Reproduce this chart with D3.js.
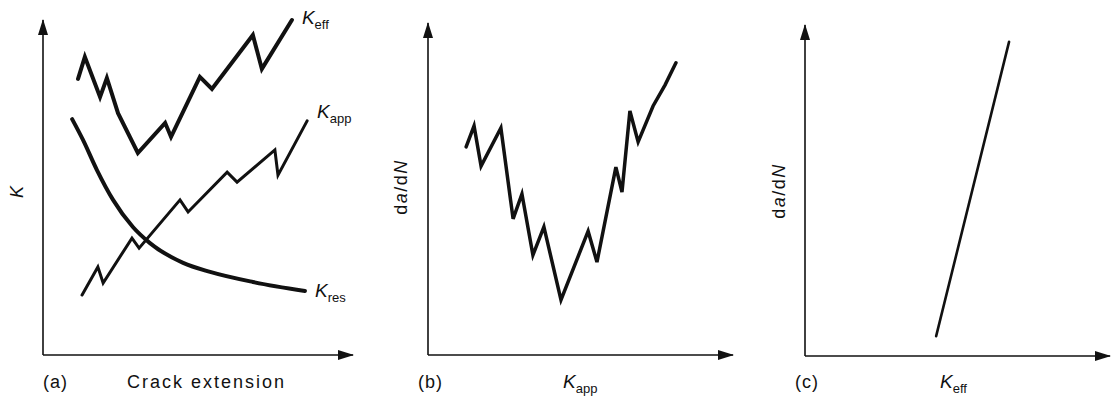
<!DOCTYPE html>
<html>
<head>
<meta charset="utf-8">
<script src="https://cdn.jsdelivr.net/npm/d3@7/dist/d3.min.js"></script>
<style>
  body { margin: 0; background: #fff; }
  text { font-family: "Liberation Sans", Arial, sans-serif; fill: #111; }
</style>
</head>
<body>
<div id="chart"></div>
<script>
// values, in arbitrary 0-100 units per panel
var kEff = [[11.3,82.4],[13.5,89.0],[18.4,77.0],[20.6,82.7],[24.2,72.2],[30.6,60.3],[39.4,69.3],
            [41.3,65.1],[50.6,83.0],[54.5,79.4],[67.7,95.5],[70.6,85.4],[80.3,100]];
var kApp = [[12.6,17.9],[17.7,26.3],[19.4,21.5],[28.7,34.9],[31.0,31.9],[44.2,46.3],[46.8,42.7],
            [59.4,54.6],[62.6,51.6],[74.8,61.2],[75.8,53.7],[85.2,69.9]];
var kRes = [[9.4,70.4],[12.9,64.2],[17.4,55.2],[22.6,46.3],[29.0,38.2],[34.5,33.4],[45.2,27.5],
            [53.9,24.8],[67.7,21.8],[84.5,19.1]];
var rateVsKapp = [[12.5,62.7],[15.1,69.0],[17.4,56.9],[23.9,68.4],[27.9,41.0],[30.8,48.5],[34.4,30.1],
                  [38.0,38.6],[43.6,16.6],[52.5,37.3],[55.4,28.0],[61.6,56.6],[63.6,49.1],[66.2,73.5],
                  [68.9,64.2],[73.8,75.0],[77.7,81.3],[81.3,88.0]];
var rateVsKeff = [[43.0,6.0],[66.9,94.9]];

var panelTags = ["(a)", "(b)", "(c)"];

var W = 1112, H = 397;
var svg = d3.select("#chart").append("svg")
    .attr("width", W)
    .attr("height", H);

// arrowhead
svg.append("defs").append("marker")
    .attr("id", "arrow")
    .attr("viewBox", "0 0 16 10")
    .attr("refX", 15).attr("refY", 5)
    .attr("markerWidth", 16).attr("markerHeight", 10)
    .attr("markerUnits", "userSpaceOnUse")
    .attr("orient", "auto")
    .append("path")
    .attr("d", "M0,0 L16,5 L0,10 Z")
    .attr("fill", "#111");

var panels = [
  {x0: 43, x1: 353, y0: 355, y1: 20, tag: panelTags[0], tagX: 43, xlab: "Crack extension", xlabX: 127, ylabX: 17, ylabY: 192, ylab: "K"},
  {x0: 428, x1: 733, y0: 355, y1: 23, tag: panelTags[1], tagX: 418, xlabK: "app", xlabX: 563, ylabX: 401, ylabY: 187, ylab: "dadN"},
  {x0: 805, x1: 1110, y0: 356, y1: 25, tag: panelTags[2], tagX: 795, xlabK: "eff", xlabX: 940, ylabX: 779, ylabY: 191, ylab: "dadN"}
];

panels.forEach(function(p) {
    p.x = d3.scaleLinear().domain([0, 100]).range([p.x0, p.x1]);
    p.y = d3.scaleLinear().domain([0, 100]).range([p.y0, p.y1]);

    // axes
    svg.append("line")
        .attr("x1", p.x0).attr("y1", p.y0).attr("x2", p.x0).attr("y2", p.y1)
        .attr("stroke", "#111").attr("stroke-width", 1.6)
        .attr("marker-end", "url(#arrow)");
    svg.append("line")
        .attr("x1", p.x0).attr("y1", p.y0).attr("x2", p.x1).attr("y2", p.y0)
        .attr("stroke", "#111").attr("stroke-width", 1.6)
        .attr("marker-end", "url(#arrow)");

    svg.append("text")
        .attr("x", p.tagX).attr("y", 388)
        .attr("font-size", 18).attr("letter-spacing", 1)
        .text(p.tag);

    var xl = svg.append("text")
        .attr("x", p.xlabX).attr("y", 388)
        .attr("font-size", 18).attr("letter-spacing", 2);
    if (p.xlab) {
        xl.text(p.xlab);
    } else {
        xl.append("tspan").attr("font-style", "italic").attr("font-size", 19).attr("letter-spacing", 0).text("K");
        xl.append("tspan").attr("font-size", 13).attr("dy", 5).attr("letter-spacing", 0).text(p.xlabK);
    }

    var yl = svg.append("text")
        .attr("transform", "translate(" + p.ylabX + "," + p.ylabY + ") rotate(-90)")
        .attr("text-anchor", "middle")
        .attr("dominant-baseline", "central")
        .attr("font-size", 18);
    if (p.ylab === "K") {
        yl.attr("font-style", "italic").text("K");
    } else {
        yl.attr("letter-spacing", 1.5);
        yl.append("tspan").text("d");
        yl.append("tspan").attr("font-style", "italic").text("a");
        yl.append("tspan").text("/d");
        yl.append("tspan").attr("font-style", "italic").text("N");
    }
});

function drawLine(p, data, width, curve) {
    var line = d3.line()
        .x(function(d) { return p.x(d[0]); })
        .y(function(d) { return p.y(d[1]); })
        .curve(curve || d3.curveLinear);
    svg.append("path")
        .datum(data)
        .attr("d", line)
        .attr("fill", "none")
        .attr("stroke", "#111")
        .attr("stroke-width", width)
        .attr("stroke-linejoin", "miter")
        .attr("stroke-linecap", "round");
}

function kLabel(p, data, sub, dx, dy) {
    var last = data[data.length - 1];
    var t = svg.append("text")
        .attr("x", p.x(last[0]) + dx)
        .attr("y", p.y(last[1]) + dy);
    t.append("tspan").attr("font-style", "italic").attr("font-size", 19).text("K");
    t.append("tspan").attr("font-size", 13).attr("dy", 5).text(sub);
}

var pa = panels[0], pb = panels[1], pc = panels[2];
drawLine(pa, kEff, 4);
drawLine(pa, kApp, 3);
drawLine(pa, kRes, 4, d3.curveMonotoneX);
kLabel(pa, kEff, "eff", 10, 4);
kLabel(pa, kApp, "app", 10, -3);
kLabel(pa, kRes, "res", 10, 6);

drawLine(pb, rateVsKapp, 3.5);
drawLine(pc, rateVsKeff, 2.6);
</script>
</body>
</html>
